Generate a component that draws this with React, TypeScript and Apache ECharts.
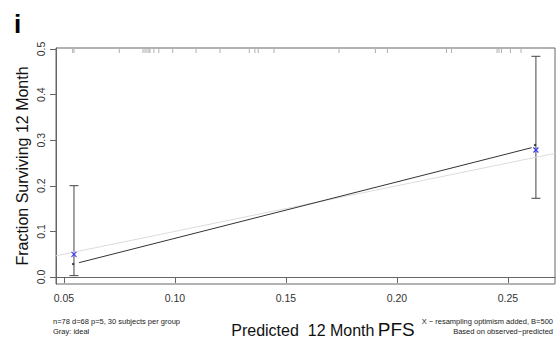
import React, { useEffect, useRef } from "react";
import * as echarts from "echarts";

const xTicks = [0.05, 0.1, 0.15, 0.2, 0.25];
const yTicks = [0, 0.1, 0.2, 0.3, 0.4, 0.5];
const xRange = [0.0464, 0.2712];
const yRange = [-0.0154, 0.5022];

const groupPredicted = [0.0545, 0.2626];
const correctedObserved = [0.0498, 0.2785];
const ciLower = [0.0029, 0.1726];
const ciUpper = [0.2002, 0.484];
const apparentPredicted = [0.0541, 0.2622];
const apparentObserved = [0.0285, 0.2895];
const apparentLineX = [0.0568, 0.2607];
const apparentLineY = [0.0314, 0.2836];
const idealLine = [0.0464, 0.2712];
const rugX = [
  0.0539, 0.0545, 0.0749, 0.0856, 0.0865, 0.0874, 0.0883, 0.0887, 0.0905,
  0.0927, 0.099, 0.1095, 0.1203, 0.1335, 0.136, 0.1375, 0.1446, 0.1739,
  0.1903, 0.1957, 0.2223, 0.2246, 0.2451, 0.246, 0.2471, 0.2511, 0.2559,
];

const FONT = "Liberation Sans, Arial, Helvetica, sans-serif";

export default function App() {
  const ref = useRef<HTMLDivElement>(null);
  useEffect(() => {
    if (!ref.current) return;
    const chart = echarts.init(ref.current, undefined, { renderer: "svg" });
    chart.setOption({
      animation: false,
      backgroundColor: "#ffffff",
      grid: {
        left: 56,
        right: 4,
        top: 48,
        bottom: 63,
        show: true,
        borderColor: "#666",
        borderWidth: 1,
        backgroundColor: "transparent",
      },
      xAxis: {
        type: "value",
        min: xRange[0],
        max: xRange[1],
        splitLine: { show: false },
        axisLine: { show: true, lineStyle: { color: "#666", width: 1 } },
        axisTick: {
          show: true,
          length: 6,
          customValues: xTicks,
          lineStyle: { color: "#666", width: 1 },
        },
        axisLabel: {
          customValues: xTicks,
          formatter: (v: number) => v.toFixed(2),
          margin: 8,
          fontSize: 10.5,
          color: "#333",
          fontFamily: FONT,
        },
      },
      yAxis: {
        type: "value",
        min: yRange[0],
        max: yRange[1],
        splitLine: { show: false },
        axisLine: { show: true, lineStyle: { color: "#666", width: 1 } },
        axisTick: {
          show: true,
          length: 6,
          customValues: yTicks,
          lineStyle: { color: "#666", width: 1 },
        },
        axisLabel: {
          customValues: yTicks,
          formatter: (v: number) => v.toFixed(1),
          rotate: 90,
          margin: 10,
          fontSize: 10.5,
          color: "#333",
          fontFamily: FONT,
        },
      },
      graphic: [
        {
          type: "text",
          left: 14,
          top: 11,
          style: {
            text: "i",
            fontSize: 26,
            fontWeight: "bold",
            fill: "#000",
            fontFamily: FONT,
          },
        },
        {
          type: "text",
          x: 22,
          y: 166,
          rotation: Math.PI / 2,
          style: {
            text: "Fraction Surviving 12 Month",
            fontSize: 16,
            fill: "#111",
            fontFamily: FONT,
            align: "center",
            verticalAlign: "middle",
          },
        },
        {
          type: "text",
          x: 323,
          y: 329,
          style: {
            text: "{a|Predicted  12 Month} {b|PFS}",
            fontFamily: FONT,
            fill: "#111",
            align: "center",
            verticalAlign: "middle",
            rich: {
              a: { fontSize: 16, fontFamily: FONT, fill: "#111", verticalAlign: "bottom" },
              b: { fontSize: 19, fontFamily: FONT, fill: "#111", verticalAlign: "bottom" },
            },
          },
        },
        {
          type: "text",
          x: 53,
          y: 316,
          style: {
            text: "n=78 d=68 p=5, 30 subjects per group\nGray: ideal",
            fontSize: 7.5,
            lineHeight: 10,
            fontFamily: FONT,
            fill: "#222",
            align: "left",
            verticalAlign: "top",
          },
        },
        {
          type: "text",
          x: 553,
          y: 316,
          style: {
            text: "X \u2212 resampling optimism added, B=500\nBased on observed\u2212predicted",
            fontSize: 7.5,
            lineHeight: 10,
            fontFamily: FONT,
            fill: "#222",
            align: "right",
            verticalAlign: "top",
          },
        },
      ],
      series: [
        {
          type: "line",
          data: [
            [idealLine[0], idealLine[0]],
            [idealLine[1], idealLine[1]],
          ],
          symbol: "none",
          lineStyle: { color: "#dcdcdc", width: 1 },
          silent: true,
        },
        {
          type: "line",
          data: apparentLineX.map((x, i) => [x, apparentLineY[i]]),
          symbol: "none",
          lineStyle: { color: "#333", width: 1 },
          silent: true,
        },
        {
          type: "custom",
          data: rugX.map((x) => [x, yRange[1]]),
          renderItem: (params: any, api: any) => {
            const p = api.coord([api.value(0), api.value(1)]);
            return {
              type: "line",
              shape: { x1: p[0], y1: p[1] + 1, x2: p[0], y2: p[1] + 5 },
              style: { stroke: "#b0b0b0", lineWidth: 1 },
            };
          },
          silent: true,
        },
        {
          type: "custom",
          data: groupPredicted.map((x, i) => [x, ciLower[i], ciUpper[i]]),
          renderItem: (params: any, api: any) => {
            const lo = api.coord([api.value(0), api.value(1)]);
            const hi = api.coord([api.value(0), api.value(2)]);
            const w = 4.5;
            const st = { stroke: "#444", lineWidth: 1 };
            return {
              type: "group",
              children: [
                { type: "line", shape: { x1: lo[0], y1: lo[1], x2: hi[0], y2: hi[1] }, style: st },
                { type: "line", shape: { x1: lo[0] - w, y1: lo[1], x2: lo[0] + w, y2: lo[1] }, style: st },
                { type: "line", shape: { x1: hi[0] - w, y1: hi[1], x2: hi[0] + w, y2: hi[1] }, style: st },
              ],
            };
          },
          silent: true,
        },
        {
          type: "scatter",
          data: apparentPredicted.map((x, i) => [x, apparentObserved[i]]),
          symbol: "circle",
          symbolSize: 2.5,
          itemStyle: { color: "#222" },
          silent: true,
        },
        {
          type: "custom",
          data: groupPredicted.map((x, i) => [x, correctedObserved[i]]),
          renderItem: (params: any, api: any) => {
            const p = api.coord([api.value(0), api.value(1)]);
            const s = 2.5;
            const st = { stroke: "#3b3bff", lineWidth: 1.1 };
            return {
              type: "group",
              children: [
                { type: "line", shape: { x1: p[0] - s, y1: p[1] - s, x2: p[0] + s, y2: p[1] + s }, style: st },
                { type: "line", shape: { x1: p[0] - s, y1: p[1] + s, x2: p[0] + s, y2: p[1] - s }, style: st },
              ],
            };
          },
          silent: true,
          z: 5,
        },
      ],
    });
    return () => chart.dispose();
  }, []);
  return (
    <div
      ref={ref}
      style={{ position: "fixed", left: 0, top: 0, width: 559, height: 347, background: "#fff" }}
    />
  );
}
